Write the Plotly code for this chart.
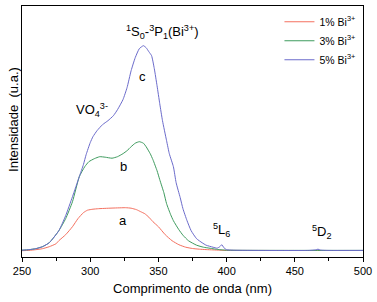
import plotly.graph_objects as go

# Wavelength (nm) and intensity (a.u.)
wl_a = [250, 255, 260, 265, 270, 275, 277, 282, 287, 291, 295, 298, 302, 306, 312, 320, 326, 330, 334,
        337, 340, 343, 346, 350, 355, 360, 365, 370, 375, 380, 385, 390, 395, 400, 450, 500]
int_a = [0, 0.3, 1, 2, 4, 7, 10, 16, 24, 32, 38, 40.5, 41.5, 42, 42.4, 42.8, 43, 42.5, 41,
         39, 37, 33.5, 29, 24, 16, 10, 6, 3.5, 2.2, 1.5, 1.1, 0.8, 0.5, 0.3, 0.2, 0.2]

wl_b = [250, 255, 260, 265, 270, 277, 282, 287, 292, 296, 299, 303, 307, 311, 316, 320, 324, 327, 330,
        333, 336, 339, 341, 344, 346, 349, 351, 354, 356, 359, 361, 365, 368, 372, 378, 383, 388, 392,
        395, 400, 450, 500]
int_b = [0.5, 1, 2, 4, 8, 20, 32, 49, 74, 84, 89, 92, 94, 93.5, 92.5, 94, 97, 100, 104,
         107.5, 109, 107.5, 104, 97, 91, 80, 71, 58, 47, 36, 30, 21, 15.5, 10, 5.5, 3.5, 2.4, 1.5,
         1, 0.5, 0.3, 0.3]

wl_c = [250, 255, 260, 265, 270, 277, 282, 287, 292, 295, 297, 300, 302, 305, 309, 313, 317, 320, 324,
        327, 330, 333, 336, 339, 341, 343, 345, 347, 349, 351, 353, 356, 358, 361, 363, 366, 368, 371,
        374, 378, 382, 385, 390, 393, 395, 396.5, 398, 400, 405, 460, 465, 467, 469, 475, 500]
int_c = [0.5, 1, 2, 4, 8, 20, 35, 54, 74, 86, 96, 108, 114, 120, 126, 130, 135, 141, 151,
         163, 180, 193, 202, 205, 203, 199, 195, 182, 165, 147, 130, 110, 97, 84, 68, 53, 42, 30,
         20, 12, 8, 5.5, 3.5, 2.5, 4, 6, 3, 1, 0.5, 0.3, 0.8, 1.5, 0.6, 0.3, 0.3]

series_names = ["1% Bi<sup>3+</sup>", "3% Bi<sup>3+</sup>", "5% Bi<sup>3+</sup>"]
series_colors = ["#F4705F", "#3E9B5E", "#6B6BCB"]

x_ticks = [250, 300, 350, 400, 450, 500]

fig = go.Figure()
for wl, inten, name, col in zip([wl_a, wl_b, wl_c], [int_a, int_b, int_c], series_names, series_colors):
    fig.add_trace(go.Scatter(x=wl, y=inten, mode="lines", name=name,
                             line=dict(color=col, width=1, shape="spline", smoothing=0.5)))

font = "Liberation Sans, Arial, sans-serif"
fig.update_layout(
    width=377, height=302,
    margin=dict(l=22, r=14, t=6, b=45),
    paper_bgcolor="white", plot_bgcolor="white",
    font=dict(family=font, color="black", size=11),
    showlegend=True,
    legend=dict(x=0.755, y=0.995, xanchor="left", yanchor="top", bgcolor="rgba(0,0,0,0)",
                font=dict(size=10.5), tracegroupgap=0, itemwidth=30),
    xaxis=dict(range=[250, 500], tickvals=x_ticks, ticks="outside", ticklen=4, tickcolor="black",
               showline=True, linecolor="black", linewidth=1, mirror=True, showgrid=False, zeroline=False,
               tickfont=dict(size=11),
               minor=dict(dtick=25, tick0=250, ticks="outside", ticklen=3, tickcolor="black", showgrid=False),
               title=dict(text="Comprimento de onda (nm)", font=dict(size=13), standoff=7)),
    yaxis=dict(range=[-6.3, 244.7], showticklabels=False, ticks="", showgrid=False, zeroline=False,
               showline=True, linecolor="black", linewidth=1, mirror=True),
)

ann = dict(xref="x", yref="y", showarrow=False, font=dict(size=13, family=font))
fig.add_annotation(x=353.2, y=219, text="<sup>1</sup>S<sub>0</sub>-<sup>3</sup>P<sub>1</sub>(Bi<sup>3+</sup>)", **ann)
fig.add_annotation(x=338.5, y=174.7, text="c", **ann)
fig.add_annotation(x=324.5, y=84.7, text="b", **ann)
fig.add_annotation(x=324, y=30.7, text="a", **ann)
fig.add_annotation(x=301, y=140.7, text="VO<sub>4</sub><sup>3-</sup>", **ann)
fig.add_annotation(x=396.3, y=20.7, text="<sup>5</sup>L<sub>6</sub>", **ann)
fig.add_annotation(x=469.9, y=19, text="<sup>5</sup>D<sub>2</sub>", **ann)
fig.add_annotation(xref="paper", yref="paper", x=-0.0235, y=0.55, xanchor="center", yanchor="middle",
                   text="Intensidade  (u.a.)", textangle=-90, showarrow=False,
                   font=dict(size=13, family=font))

fig.write_html("out.html", config={"displayModeBar": False},
               post_script="document.body.style.margin='0';document.body.style.padding='0';")
